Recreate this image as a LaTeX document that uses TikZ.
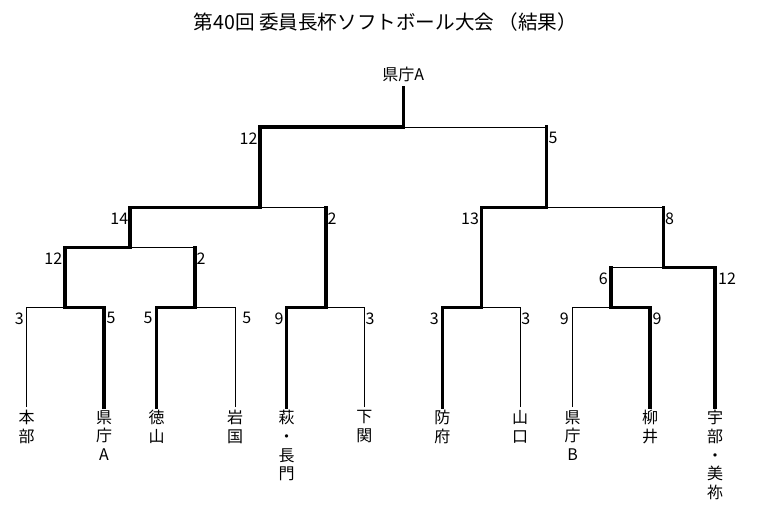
\documentclass[tikz,border=0pt]{standalone}
\usepackage{fontspec}
\newfontfamily\jp{Noto Sans CJK JP}
\usetikzlibrary{calc}
\tikzset{
  win/.style={line width=3.5pt, line cap=rect, line join=miter},
  lose/.style={line width=1pt},
  num/.style={font=\jp\fontsize{16}{18}\selectfont, inner sep=0pt},
  leaf/.style={font=\jp\fontsize{16}{18.7}\selectfont, inner sep=0pt, align=center, anchor=north},
  titlestyle/.style={font=\jp\fontsize{19.6}{22}\selectfont, inner sep=0pt},
}
\begin{document}
\begin{tikzpicture}[x=1pt,y=-1pt]
\fill[white] (0,0) rectangle (767,504);
\useasboundingbox (0,0) rectangle (767,504);

\node[titlestyle] (title) at (385.5,21.7) {第40回 委員長杯ソフトボール大会 （結果）};

% leaf tops
\coordinate (l1) at (26.7,407);
\coordinate (l2) at (104,407);
\coordinate (l3) at (156.7,407);
\coordinate (l4) at (235,407);
\coordinate (l5) at (286.7,407);
\coordinate (l6) at (364.3,407);
\coordinate (l7) at (442.3,407);
\coordinate (l8) at (520,407);
\coordinate (l9) at (572.7,407);
\coordinate (l10) at (650,407);
\coordinate (l11) at (715,407);
% junctions
\coordinate (j1) at (65,307.3);
\coordinate (j2) at (195,307.3);
\coordinate (j3) at (326,307.3);
\coordinate (j4) at (481.7,307.3);
\coordinate (j5) at (611,307.3);
\coordinate (k1) at (130,247.3);
\coordinate (k2) at (663.3,267.7);
\coordinate (m1) at (260,207.3);
\coordinate (m2) at (546.7,207.3);
\coordinate (t) at (403.3,127);
\coordinate (top) at (403.3,87.5);

% leaf labels
\node[leaf] (n1) at (26.7,410) {本\\部};
\node[leaf] (n2) at (104,410) {県\\庁\\A};
\node[leaf] (n3) at (156.7,410) {徳\\山};
\node[leaf] (n4) at (235,410) {岩\\国};
\node[leaf] (n5) at (286.7,410) {萩\\・\\長\\門};
\node[leaf] (n6) at (364.3,410) {下\\関};
\node[leaf] (n7) at (442.3,410) {防\\府};
\node[leaf] (n8) at (520,410) {山\\口};
\node[leaf] (n9) at (572.7,410) {県\\庁\\B};
\node[leaf] (n10) at (650,410) {柳\\井};
\node[leaf] (n11) at (715,410) {宇\\部\\・\\美\\祢};
\node[font=\jp\fontsize{16}{18}\selectfont, inner sep=0pt] (champ) at (403.3,74) {県庁A};

% thin lines
\draw[lose] (l1) |- (j1);
\draw[lose] (l4) |- (j2);
\draw[lose] (j2 |- k1) -- (k1);
\draw[lose] (l6) |- (j3);
\draw[lose] (j3 |- m1) -- (m1);
\draw[lose] (t) -- (m2 |- t);
\draw[lose] (l8) |- (j4);
\draw[lose] (m2) -- (k2 |- m2);
\draw[lose] (l9) |- (j5);
\draw[lose] (j5 |- k2) -- (k2);

% winners
\draw[win] (l2) |- (j1) |- (k1) |- (m1) |- (t) -- (top);
\draw[win] (l3) |- (j2) -- (j2 |- k1);
\draw[win] (l5) |- (j3) -- (j3 |- m1);
\draw[win] (l7) |- (j4) |- (m2) -- (m2 |- t);
\draw[win] (l10) |- (j5) -- (j5 |- k2);
\draw[win] (l11) |- (k2) -- (k2 |- m2);

% scores
\node[num] (s1) at (248.5,138.3) {12};
\node[num] (s2) at (553,138.3) {5};
\node[num] (s3) at (119.3,218.3) {14};
\node[num] (s4) at (332,218.3) {2};
\node[num] (s5) at (470,218.3) {13};
\node[num] (s6) at (669.5,218.3) {8};
\node[num] (s7) at (53.3,258.3) {12};
\node[num] (s8) at (201,258.3) {2};
\node[num] (s9) at (603.3,278.5) {6};
\node[num] (s10) at (727,278.5) {12};
\node[num] (s11) at (19.3,318.3) {3};
\node[num] (s12) at (111,318.3) {5};
\node[num] (s13) at (148,318.3) {5};
\node[num] (s14) at (246.7,318.3) {5};
\node[num] (s15) at (279,318.3) {9};
\node[num] (s16) at (370,318.3) {3};
\node[num] (s17) at (434.3,318.3) {3};
\node[num] (s18) at (525.7,318.3) {3};
\node[num] (s19) at (564.3,318.3) {9};
\node[num] (s20) at (657,318.3) {9};
\end{tikzpicture}
\end{document}
